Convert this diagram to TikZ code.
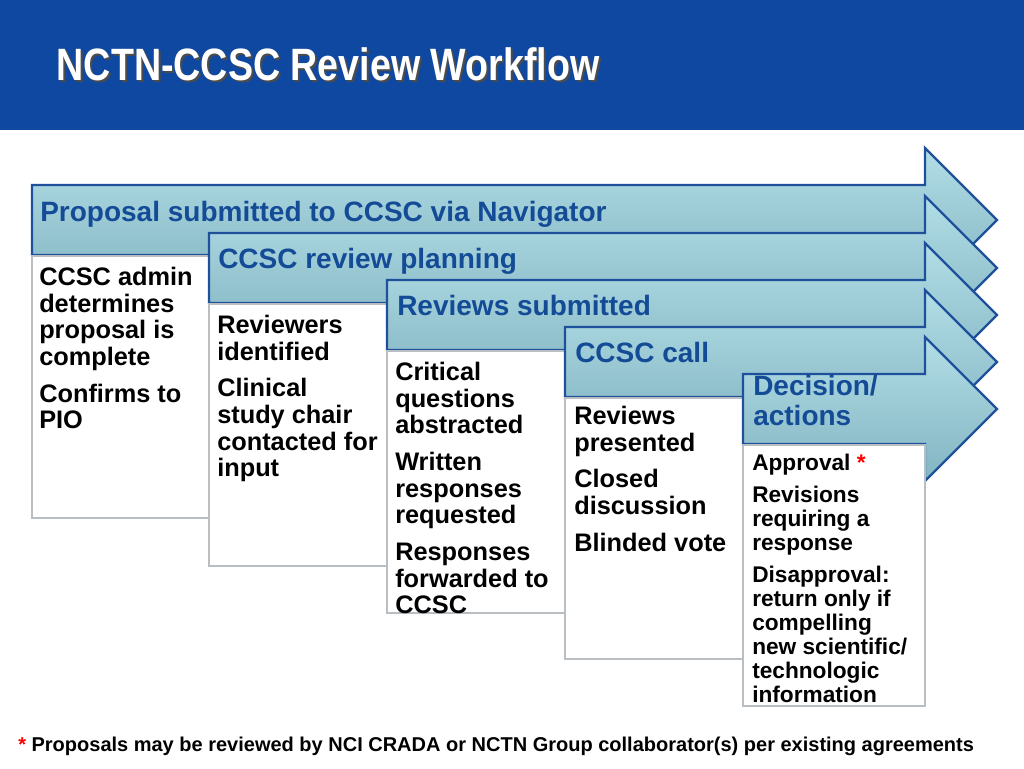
\documentclass[tikz,border=0pt]{standalone}
\usepackage{fontspec}
\setmainfont{Liberation Sans}
\usepackage{graphicx}
\definecolor{titlebar}{RGB}{14,72,160}
\definecolor{hdrtop}{RGB}{178,222,230}
\definecolor{hdrbot}{RGB}{130,180,194}
\definecolor{hdrline}{RGB}{30,80,155}
\definecolor{hdrtext}{RGB}{20,75,150}
\definecolor{boxline}{RGB}{185,190,195}
\begin{document}
\begin{tikzpicture}[x=0.75pt,y=-0.75pt,
  hdr/.style={top color=hdrtop,bottom color=hdrbot,draw=hdrline,line width=1.8pt,line join=miter},
  bodybox/.style={fill=white,draw=boxline,line width=0.8pt},
  htext/.style={anchor=north west,font=\fontsize{21}{22.5}\selectfont\bfseries,text=hdrtext,align=left,inner sep=0pt},
  btext/.style={anchor=north west,font=\fontsize{19}{20}\selectfont\bfseries,text=black,align=left,inner sep=0pt}]
\useasboundingbox (0,0) rectangle (1024,768);
\fill[titlebar] (0,0) rectangle (1024,130);
\node[anchor=west,text=black!70,font=\fontsize{34}{36}\selectfont\bfseries] at (54,66) {\scalebox{0.83}[1]{NCTN-CCSC Review Workflow}};
\node[anchor=west,text=white,font=\fontsize{34}{36}\selectfont\bfseries] (title) at (52,64) {\scalebox{0.83}[1]{NCTN-CCSC Review Workflow}};
\def\arrowhdr#1#2#3{%
  \pgfmathsetmacro{\mid}{(#2+#3)/2}
  \draw[hdr] (#1,#2) -- (925,#2) -- (925,\mid-72) -- (997,\mid) -- (925,\mid+72) -- (925,#3) -- (#1,#3) -- cycle;}
% 1
\arrowhdr{32}{185}{255}
\draw[bodybox] (32,256) rectangle (209,518);
\node[htext] (h1) at (40,201) {Proposal submitted to CCSC via Navigator};
\node[btext] (b1) at (39,267) {CCSC admin\\determines\\proposal is\\complete\\[7.5pt]Confirms to\\PIO};
% 2
\arrowhdr{209}{233}{303}
\draw[bodybox] (209,304) rectangle (387,566);
\node[htext] (h2) at (218,248) {CCSC review planning};
\node[btext] (b2) at (217,315) {Reviewers\\identified\\[7.5pt]Clinical\\study chair\\contacted for\\input};
% 3
\arrowhdr{387}{280}{350}
\draw[bodybox] (387,351) rectangle (565,613);
\node[htext] (h3) at (397,295) {Reviews submitted};
\node[btext] (b3) at (395,362) {Critical\\questions\\abstracted\\[7.5pt]Written\\responses\\requested\\[7.5pt]Responses\\forwarded to\\CCSC};
% 4
\arrowhdr{565}{327}{397}
\draw[bodybox] (565,398) rectangle (743,659);
\node[htext] (h4) at (575,342) {CCSC call};
\node[btext] (b4) at (574,406) {Reviews\\presented\\[7.5pt]Closed\\discussion\\[7.5pt]Blinded vote};
% 5
\arrowhdr{743}{374}{444}
\draw[bodybox] (743,445) rectangle (925,706);
\node[htext] (h5) at (753,375) {Decision/\\actions};
\node[btext,font=\fontsize{17}{18}\selectfont\bfseries] (b5) at (752,454) {Approval \textcolor{red}{*}\\[6pt]Revisions\\requiring a\\response\\[6pt]Disapproval:\\return only if\\compelling\\new scientific/\\technologic\\information};
\node[anchor=west,font=\fontsize{15}{17}\selectfont\bfseries,inner sep=0pt] (foot) at (18,746) {\textcolor{red}{*} Proposals may be reviewed by NCI CRADA or NCTN Group collaborator(s) per existing agreements};
\end{tikzpicture}
\end{document}
